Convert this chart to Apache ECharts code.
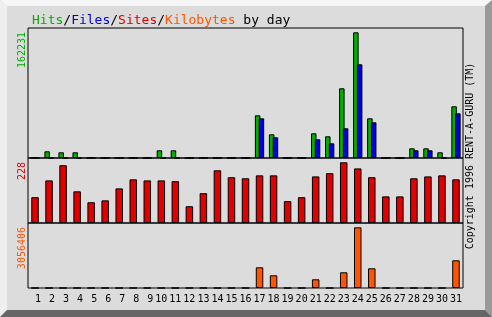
<!DOCTYPE html>
<html>
<head>
<meta charset="utf-8">
<script src="https://cdn.jsdelivr.net/npm/echarts@6/dist/echarts.min.js"></script>
<style>
html,body{margin:0;padding:0;background:#dcdcdc;}
#chart{width:492px;height:317px;}
</style>
</head>
<body>
<div id="chart"></div>
<script>
// ---- data ----
const days = [1,2,3,4,5,6,7,8,9,10,11,12,13,14,15,16,17,18,19,20,21,22,23,24,25,26,27,28,29,30,31];
const hits = [0,8650,7360,7360,0,0,0,0,0,9940,9940,0,0,0,0,0,55110,30590,0,0,31880,28010,89950,162231,51240,0,0,12520,12520,7360,66720];
const files = [0,0,0,0,0,0,0,0,0,0,0,0,0,0,0,0,51240,26720,0,0,24130,18970,38330,120930,46070,0,0,9940,9940,0,57690];
const sites = [97,160,217,119,78,85,130,164,160,160,157,63,112,198,172,168,179,179,82,97,175,187,228,205,172,100,100,168,175,179,164];
const kbytes = [0,0,0,0,0,0,0,0,0,0,0,0,0,0,0,0,1042300,639500,0,0,438100,0,790500,3056406,991950,0,0,0,0,0,1394800];
const titleParts = ['Hits','Files','Sites','Kilobytes'];
const titleSuffix = ' by day';
const copyright = 'Copyright 1996 RENT-A-GURU (TM)';

const C = {hits:'#00b000', files:'#0000d8', sites:'#e00000', kb:'#ff5500'};
const MONO = '"DejaVu Sans Mono", "Liberation Mono", monospace';

const chart = echarts.init(document.getElementById('chart'));

const gridL = 28, gridW = 435;
const grids = [
  {left:gridL, width:gridW, top:28, height:130},
  {left:gridL, width:gridW, top:158, height:65},
  {left:gridL, width:gridW, top:223, height:65}
].map(g => Object.assign(g, {show:true, borderColor:'#000', borderWidth:1, backgroundColor:'transparent', containLabel:false, outerBoundsMode:'none'}));

function xAx(i, showLabel){
  return {
    type:'category', gridIndex:i, data:days,
    axisLine:{show:false}, axisTick:{show:false}, splitLine:{show:false},
    axisLabel: showLabel ? {
      show:true, interval:0, margin:6, color:'#000', fontFamily:MONO, fontSize:10,
      formatter: v => String(v).padStart(2,' ')
    } : {show:false}
  };
}
function yAx(i, arr, frac, color){
  const mx = Math.max(...arr);
  return {
    type:'value', gridIndex:i, min:0, max: v => v.max / frac,
    axisLine:{show:false}, axisTick:{show:false}, splitLine:{show:false}, axisLabel:{show:false},
    offset:6,
    name: String(mx), nameLocation:'end', nameGap:-4, nameRotate:90,
    nameTextStyle:{color:color, fontFamily:MONO, fontSize:10, align:'right', verticalAlign:'middle'}
  };
}

const option = {
  backgroundColor:'#dcdcdc',
  animation:false,
  title:{
    left:27, top:9,
    text: '{h|' + titleParts[0] + '}/{f|' + titleParts[1] + '}/{s|' + titleParts[2] + '}/{k|' + titleParts[3] + '}' + titleSuffix,
    textStyle:{
      color:'#000', fontFamily:MONO, fontSize:13, fontWeight:'normal',
      rich:{
        h:{color:C.hits, fontFamily:MONO, fontSize:13},
        f:{color:C.files, fontFamily:MONO, fontSize:13},
        s:{color:C.sites, fontFamily:MONO, fontSize:13},
        k:{color:C.kb, fontFamily:MONO, fontSize:13}
      }
    }
  },
  grid: grids,
  xAxis: [xAx(0,false), xAx(1,false), xAx(2,true)],
  yAxis: [
    yAx(0, hits, 125.7/130, C.hits),
    yAx(1, sites, 60.7/65, C.sites),
    yAx(2, kbytes, 60.7/65, C.kb)
  ],
  series: [
    {type:'bar', name:'Hits', xAxisIndex:0, yAxisIndex:0, data:hits, barWidth:5.5, barGap:'-31%',
     itemStyle:{color:C.hits, borderColor:'#000', borderWidth:1}},
    {type:'bar', name:'Files', xAxisIndex:0, yAxisIndex:0, data:files, barWidth:5.5, barGap:'-31%',
     itemStyle:{color:C.files, borderColor:'#000', borderWidth:1}},
    {type:'bar', name:'Sites', xAxisIndex:1, yAxisIndex:1, data:sites, barWidth:7.5,
     itemStyle:{color:C.sites, borderColor:'#000', borderWidth:1}},
    {type:'bar', name:'Kilobytes', xAxisIndex:2, yAxisIndex:2, data:kbytes, barWidth:7.5,
     itemStyle:{color:C.kb, borderColor:'#000', borderWidth:1}}
  ],
  graphic: [
    {type:'polygon', silent:true, z:-10, shape:{points:[[0,0],[492,0],[485,6],[7,6]]}, style:{fill:'#f6f6f6'}},
    {type:'polygon', silent:true, z:-10, shape:{points:[[0,0],[7,6],[7,310],[0,317]]}, style:{fill:'#efefef'}},
    {type:'polygon', silent:true, z:-10, shape:{points:[[492,0],[492,317],[485,310],[485,6]]}, style:{fill:'#9a9a9a'}},
    {type:'polygon', silent:true, z:-10, shape:{points:[[0,317],[7,310],[485,310],[492,317]]}, style:{fill:'#666666'}},
    {type:'text', silent:true, x:470, y:156, rotation:Math.PI/2,
     style:{text:copyright, fill:'#000', font:'10px ' + MONO, align:'center', verticalAlign:'middle'}}
  ]
};
chart.setOption(option);
</script>
</body>
</html>
